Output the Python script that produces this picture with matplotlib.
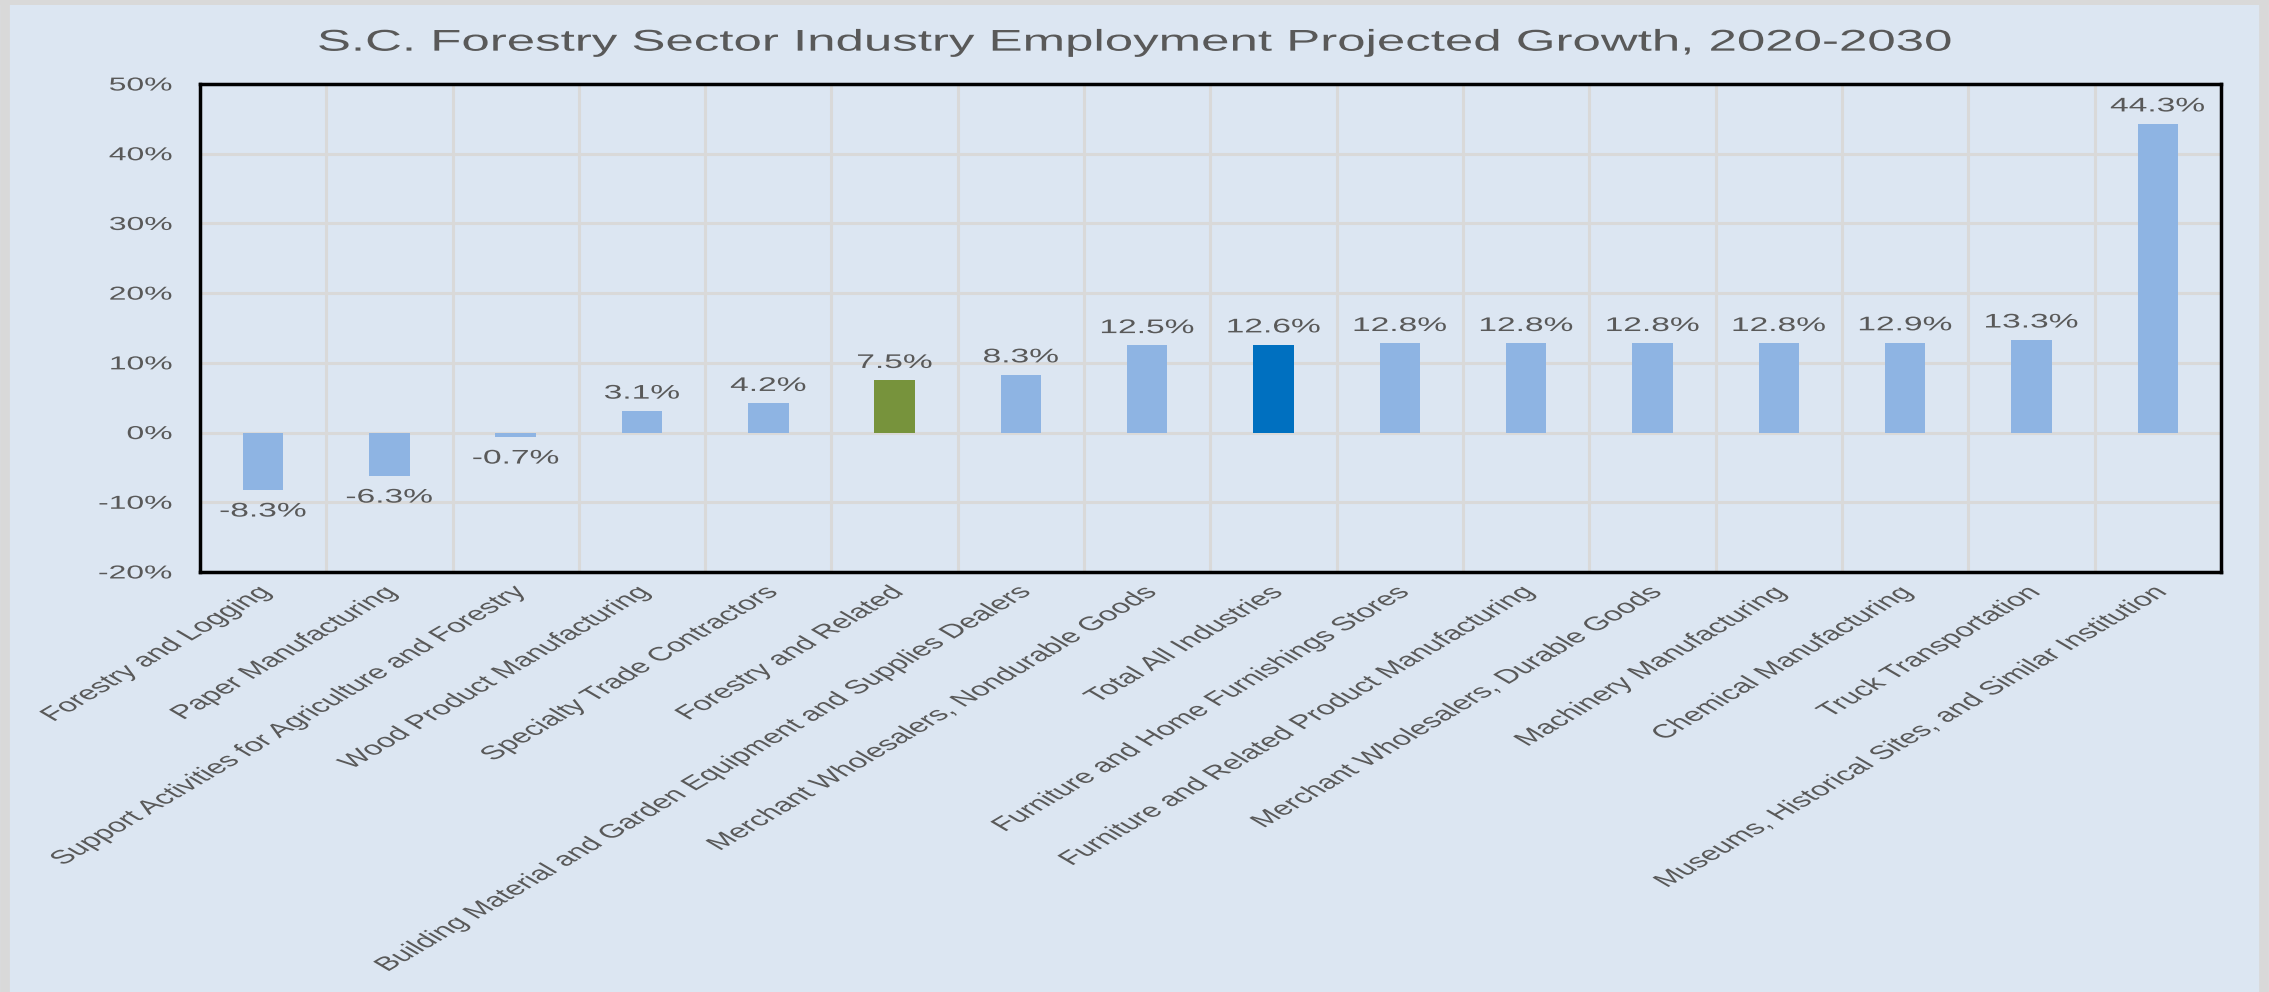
import matplotlib.pyplot as plt
from matplotlib.ticker import FuncFormatter, MultipleLocator
from matplotlib.patheffects import AbstractPathEffect
from matplotlib.transforms import Affine2D
from matplotlib.lines import Line2D

plt.rcParams['font.family'] = ['Liberation Sans', 'DejaVu Sans']

# Data
industries = [
    "Forestry and Logging",
    "Paper Manufacturing",
    "Support Activities for Agriculture and Forestry",
    "Wood Product Manufacturing",
    "Specialty Trade Contractors",
    "Forestry and Related",
    "Building Material and Garden Equipment and Supplies Dealers",
    "Merchant Wholesalers, Nondurable Goods",
    "Total All Industries",
    "Furniture and Home Furnishings Stores",
    "Furniture and Related Product Manufacturing",
    "Merchant Wholesalers, Durable Goods",
    "Machinery Manufacturing",
    "Chemical Manufacturing",
    "Truck Transportation",
    "Museums, Historical Sites, and Similar Institution",
]
growth = [-8.3, -6.3, -0.7, 3.1, 4.2, 7.5, 8.3, 12.5, 12.6, 12.8, 12.8, 12.8, 12.8, 12.9, 13.3, 44.3]

bar_colors = ['#8EB4E3'] * len(growth)
bar_colors[5] = '#77933C'   # Forestry and Related
bar_colors[8] = '#0070C0'   # Total All Industries

bg = '#DCE6F2'
txt = '#595959'
grid_c = '#D9D9D9'
SX = 1.7  # the source chart is stretched sideways


class StretchX(AbstractPathEffect):
    """draw text glyphs widened horizontally (like the stretched source image)"""
    def __init__(self, sx, anchor='center'):
        super().__init__()
        self.sx = sx
        self.anchor = anchor

    def draw_path(self, renderer, gc, tpath, affine, rgbFace=None):
        ext = tpath.get_extents(affine)
        if self.anchor == 'right':
            x0 = ext.x1
        elif self.anchor == 'left':
            x0 = ext.x0
        else:
            x0 = (ext.x0 + ext.x1) / 2
        aff = affine + Affine2D().translate(-x0, 0).scale(self.sx, 1).translate(x0, 0)
        renderer.draw_path(gc, tpath, aff, rgbFace)


fig = plt.figure(figsize=(22.69, 9.92), dpi=100, facecolor=bg)
ax = fig.add_axes([0.0881, 0.4234, 0.8907, 0.4919])
ax.set_facecolor(bg)

x = range(len(growth))
ax.bar(x, growth, width=0.32, color=bar_colors, zorder=3)

ax.set_ylim(-20, 50)
ax.set_xlim(-0.5, len(growth) - 0.5)
ax.yaxis.set_major_locator(MultipleLocator(10))
ax.yaxis.set_major_formatter(FuncFormatter(lambda v, p: f"{v:.0f}%"))

# gridlines: horizontal at ticks, vertical between categories
ax.grid(axis='y', color=grid_c, linewidth=2.2, zorder=0)
for b in range(1, len(growth)):
    ax.axvline(b - 0.5, color=grid_c, linewidth=2.2, zorder=0)

ax.set_xticks(list(x))
ax.set_xticklabels(industries, rotation=45, ha='right', rotation_mode='anchor',
                   fontsize=13.9, color=txt)
ax.tick_params(axis='x', length=0, pad=9)
ax.tick_params(axis='y', length=0, pad=20, labelsize=13.5, labelcolor=txt)
for lab in ax.get_xticklabels():
    lab.set_path_effects([StretchX(SX, 'right')])
for lab in ax.get_yticklabels():
    lab.set_path_effects([StretchX(SX, 'right')])

for s in ax.spines.values():
    s.set_color('black')
    s.set_linewidth(2.5)

for xi, v in zip(x, growth):
    if v >= 0:
        t = ax.annotate(f"{v:.1f}%", (xi, v), xytext=(0, 6), textcoords='offset points',
                        ha='center', va='bottom', fontsize=14.2, color=txt)
    else:
        t = ax.annotate(f"{v:.1f}%", (xi, v), xytext=(0, -8), textcoords='offset points',
                        ha='center', va='top', fontsize=14.2, color=txt)
    t.set_path_effects([StretchX(SX, 'center')])

title = fig.text(0.5, 0.957, "S.C. Forestry Sector Industry Employment Projected Growth, 2020-2030",
                 ha='center', va='center', fontsize=21.6, color=txt)
title.set_path_effects([StretchX(SX, 'center')])

# light grey frame on left, top and right of the chart area
for xs, ys, lw in [([0.0021, 0.0021], [0, 1], 7), ([0, 1], [0.9975, 0.9975], 3.6),
                   ([0.9979, 0.9979], [0, 1], 7)]:
    fig.add_artist(Line2D(xs, ys, transform=fig.transFigure, color=grid_c, linewidth=lw))

fig.savefig('out.png', dpi=100, facecolor=bg)
